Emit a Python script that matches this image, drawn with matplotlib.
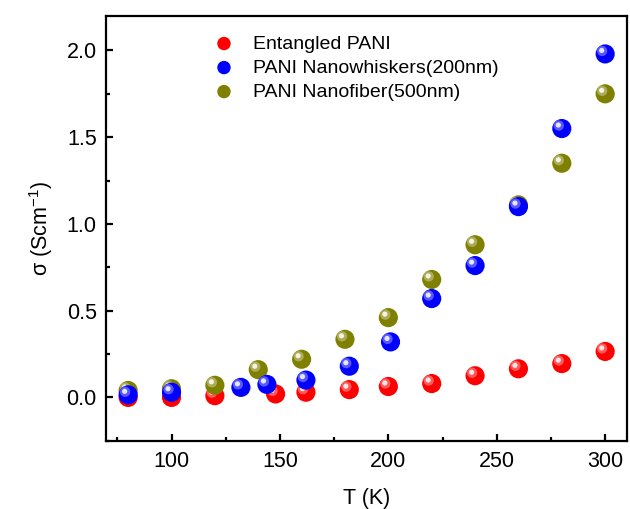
import matplotlib
matplotlib.use("Agg")
import matplotlib.pyplot as plt
from matplotlib.transforms import offset_copy
from matplotlib.ticker import MultipleLocator

plt.rcParams["font.family"] = ["Liberation Sans", "DejaVu Sans"]

# Conductivity vs temperature
T_ent = [80, 100, 120, 148, 162, 182, 200, 220, 240, 260, 280, 300]
sig_ent = [0.0, 0.0, 0.01, 0.02, 0.03, 0.045, 0.063, 0.08, 0.125, 0.165, 0.195, 0.265]

T_whisk = [80, 100, 132, 144, 162, 182, 201, 220, 240, 260, 280, 300]
sig_whisk = [0.015, 0.03, 0.058, 0.075, 0.10, 0.18, 0.32, 0.57, 0.76, 1.10, 1.55, 1.98]

T_fib = [80, 100, 120, 140, 160, 180, 200, 220, 240, 260, 280, 300]
sig_fib = [0.04, 0.05, 0.07, 0.16, 0.22, 0.335, 0.46, 0.68, 0.88, 1.11, 1.35, 1.75]

labels = ["Entangled PANI", "PANI Nanowhiskers(200nm)", "PANI Nanofiber(500nm)"]
colors = ["#ff0000", "#0000ff", "#808000"]

fig = plt.figure(figsize=(6.3, 5.09), dpi=100)
ax = fig.add_axes([0.169, 0.134, 0.826, 0.835])

hl = offset_copy(ax.transData, fig=fig, x=-3, y=3, units="dots")
hl2 = offset_copy(ax.transData, fig=fig, x=-3.5, y=3.5, units="dots")

series = [(T_ent, sig_ent, 0), (T_fib, sig_fib, 2), (T_whisk, sig_whisk, 1)]
handles = {}
for z, (x, y, i) in enumerate(series):
    h = ax.scatter(x, y, s=190, color=colors[i], edgecolors="none",
                   zorder=3 + 3 * z, label=labels[i])
    ax.scatter(x, y, s=55, color="white", alpha=0.35, edgecolors="none",
               transform=hl, zorder=4 + 3 * z)
    ax.scatter(x, y, s=14, color="white", alpha=0.85, edgecolors="none",
               transform=hl2, zorder=5 + 3 * z)
    handles[i] = h

ax.legend([handles[0], handles[1], handles[2]], labels,
          loc="upper left", bbox_to_anchor=(0.1735, 0.973), frameon=False,
          fontsize=14, markerscale=0.7, handletextpad=0.5,
          labelspacing=0.33, borderaxespad=0)

ax.set_xlim(70, 310)
ax.set_ylim(-0.25, 2.2)
ax.xaxis.set_major_locator(MultipleLocator(50))
ax.xaxis.set_minor_locator(MultipleLocator(25))
ax.yaxis.set_major_locator(MultipleLocator(0.5))
ax.yaxis.set_minor_locator(MultipleLocator(0.25))
ax.yaxis.set_major_formatter(matplotlib.ticker.FormatStrFormatter("%.1f"))

for s in ax.spines.values():
    s.set_linewidth(1.6)
ax.tick_params(which="major", direction="in", length=5, width=1.6,
               labelsize=15.5, pad=7)
ax.tick_params(which="minor", direction="in", length=3, width=1.6)

ax.set_xlabel("T (K)", fontsize=15.5, labelpad=12)
ax.set_ylabel("σ (Scm$^{\\mathregular{-1}}$)", fontsize=15.5, labelpad=8)

fig.savefig("out.png", dpi=100)
